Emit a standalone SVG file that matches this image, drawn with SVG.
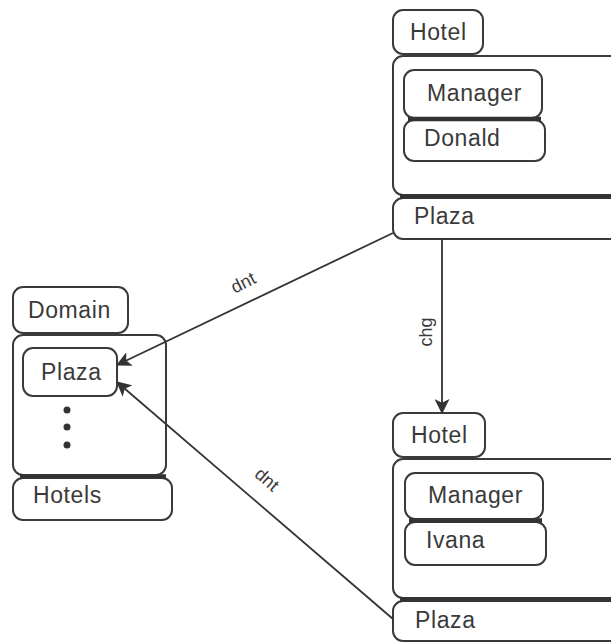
<svg xmlns="http://www.w3.org/2000/svg" width="611" height="643" viewBox="0 0 611 643">
  <defs>
    <style>
      .box { fill: #ffffff; stroke: #3a3a3a; stroke-width: 2; }
      .bar { stroke: #333333; stroke-width: 4.5; }
      .lbl { font-family: "Liberation Sans", Arial, sans-serif; font-size: 23px; fill: #3a3a3a; letter-spacing: 0.6px; }
      .elbl { font-family: "Liberation Sans", Arial, sans-serif; font-size: 18px; fill: #3a3a3a; }
      .edge { fill: none; stroke: #333333; stroke-width: 1.8; }
    </style>
    <marker id="arrow" viewBox="0 0 14 14" refX="13" refY="7" markerWidth="15" markerHeight="15" markerUnits="userSpaceOnUse" orient="auto">
      <path d="M0,0 L14,7 L0,14 L3.5,7 Z" fill="#333333"/>
    </marker>
  </defs>
  <rect width="611" height="643" fill="#ffffff"/>

  <!-- Hotel (top) -->
  <g id="hotel-top">
    <rect class="box" x="393" y="10" width="90" height="44" rx="10"/>
    <text class="lbl" x="410" y="40">Hotel</text>
    <rect class="box" x="393" y="56" width="240" height="139" rx="10"/>
    <rect class="box" x="404" y="70" width="138" height="48" rx="10"/>
    <text class="lbl" x="427" y="101">Manager</text>
    <rect class="box" x="404" y="120" width="141" height="41" rx="10"/>
    <text class="lbl" x="424" y="146">Donald</text>
    <line class="bar" x1="408" y1="119" x2="541" y2="119"/>
    <rect class="box" x="393" y="198" width="240" height="41" rx="10"/>
    <text class="lbl" x="414" y="224">Plaza</text>
    <line class="bar" x1="400" y1="196.5" x2="611" y2="196.5"/>
  </g>

  <!-- Domain -->
  <g id="domain">
    <rect class="box" x="13" y="287" width="115" height="46" rx="10"/>
    <text class="lbl" x="28" y="318">Domain</text>
    <rect class="box" x="13" y="335" width="153" height="140" rx="10"/>
    <rect class="box" x="23" y="348" width="94" height="48" rx="10"/>
    <text class="lbl" x="41" y="380">Plaza</text>
    <circle cx="67" cy="410" r="3.5" fill="#333333"/>
    <circle cx="67" cy="427" r="3.5" fill="#333333"/>
    <circle cx="67" cy="445" r="3.5" fill="#333333"/>
    <rect class="box" x="13" y="478" width="159" height="42" rx="10"/>
    <text class="lbl" x="33" y="503">Hotels</text>
    <line class="bar" x1="20" y1="476.5" x2="166" y2="476.5"/>
  </g>

  <!-- Hotel (bottom) -->
  <g id="hotel-bottom">
    <rect class="box" x="393" y="413" width="92" height="44" rx="10"/>
    <text class="lbl" x="411" y="443">Hotel</text>
    <rect class="box" x="393" y="459" width="240" height="139" rx="10"/>
    <rect class="box" x="405" y="473" width="138" height="46" rx="10"/>
    <text class="lbl" x="428" y="503">Manager</text>
    <rect class="box" x="405" y="522" width="141" height="43" rx="10"/>
    <text class="lbl" x="426" y="548">Ivana</text>
    <line class="bar" x1="409" y1="520.5" x2="542" y2="520.5"/>
    <rect class="box" x="393" y="601" width="240" height="40" rx="10"/>
    <text class="lbl" x="415" y="628">Plaza</text>
    <line class="bar" x1="400" y1="599.5" x2="611" y2="599.5"/>
  </g>

  <!-- Connectors -->
  <g id="connectors">
    <line class="edge" x1="393" y1="233" x2="117" y2="365" marker-end="url(#arrow)"/>
    <text class="elbl" transform="translate(246,288) rotate(-27)" text-anchor="middle">dnt</text>

    <line class="edge" x1="393" y1="619" x2="117" y2="382" marker-end="url(#arrow)"/>
    <text class="elbl" transform="translate(263,484) rotate(41)" text-anchor="middle">dnt</text>

    <line class="edge" x1="442" y1="239" x2="442" y2="413" marker-end="url(#arrow)"/>
    <text class="elbl" transform="translate(432,332) rotate(-90)" text-anchor="middle">chg</text>
  </g>
</svg>
